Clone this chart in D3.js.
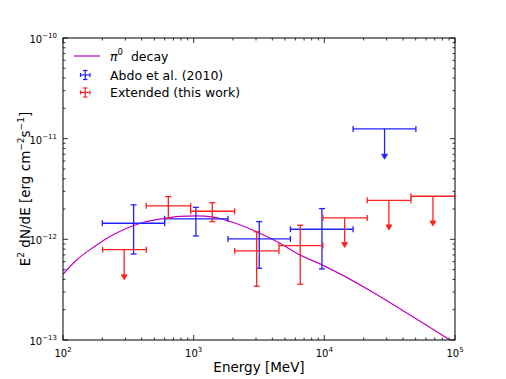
<!DOCTYPE html>
<html><head><meta charset="utf-8">
<script src="https://cdn.jsdelivr.net/npm/d3@7"></script>
<style>body{margin:0;background:#fff}svg{display:block}text{font-family:"DejaVu Sans",sans-serif;fill:#000}</style>
</head><body><svg id="c" width="506" height="379"></svg>
<script>
// pi0 decay model curve (energy MeV, E^2 dN/dE)
const curveE = [100, 127, 171, 229, 307, 411, 552, 785, 1054, 1413, 2010, 3035, 4575, 6505, 9250, 91400, 100000];
const curveF = [4.5e-13, 6.23e-13, 8.35e-13, 1.065e-12, 1.29e-12, 1.47e-12, 1.59e-12, 1.69e-12, 1.71e-12, 1.66e-12, 1.47e-12, 1.19e-12, 9.14e-13, 7.0e-13, 5.7e-13, 1.0e-13, 9.3e-14];

// Abdo et al. (2010)
const abdoE    = [347, 1040, 3175, 9590, 28900];
const abdoElo  = [200, 600, 1830, 5500, 16600];
const abdoEhi  = [600, 1830, 5500, 16600, 50200];
const abdoF    = [1.445e-12, 1.6e-12, 1.01e-12, 1.26e-12, 1.25e-11];
const abdoFlo  = [7.16e-13, 1.08e-12, 5.16e-13, 5.08e-13, 6.4e-12];
const abdoFhi  = [2.2e-12, 2.08e-12, 1.5e-12, 2.02e-12, null];
const abdoUL   = [false, false, false, false, true];

// Extended (this work)
const extE    = [294, 640, 1388, 3035, 6540, 14300, 31200, 67800];
const extElo  = [201, 434, 948, 2060, 4496, 9750, 21300, 46000];
const extEhi  = [434, 948, 2060, 4496, 9750, 21300, 46000, 100000];
const extF    = [7.9e-13, 2.15e-12, 1.9e-12, 7.67e-13, 8.67e-13, 1.63e-12, 2.44e-12, 2.68e-12];
const extFlo  = [4.05e-13, 1.62e-12, 1.5e-12, 3.42e-13, 3.58e-13, 8.5e-13, 1.27e-12, 1.39e-12];
const extFhi  = [null, 2.66e-12, 2.31e-12, 1.19e-12, 1.38e-12, null, null, null];
const extUL   = [true, false, false, false, false, true, true, true];

const xTicks = [100, 1000, 10000, 100000];
const xTickExp = ["2", "3", "4", "5"];
const yTicks = [1e-13, 1e-12, 1e-11, 1e-10];
const yTickExp = ["-13", "-12", "-11", "-10"];

const L = 63, R = 455, T = 38, B = 340;
const svg = d3.select("#c");
const x = d3.scaleLog().domain([100, 1e5]).range([L, R]);
const y = d3.scaleLog().domain([1e-13, 1e-10]).range([B, T]);

svg.append("defs").append("clipPath").attr("id", "clip")
  .append("rect").attr("x", L).attr("y", T).attr("width", R - L).attr("height", B - T);

// minor/major ticks on all sides (inward)
const g = svg.append("g");
function minors(e0, e1) {
  const out = [];
  for (let e = e0; e < e1; e++) for (let k = 2; k <= 9; k++) out.push(k * Math.pow(10, e));
  return out;
}
const xMin = minors(2, 5), yMin = minors(-13, -10);
const tk = (x1, y1, x2, y2) => g.append("line").attr("x1", x1).attr("y1", y1).attr("x2", x2).attr("y2", y2).attr("stroke", "#000").attr("stroke-width", 0.8);
xMin.forEach(v => { const px = x(v); tk(px, B, px, B - 2.5); tk(px, T, px, T + 2.5); });
yMin.forEach(v => { const py = y(v); tk(L, py, L + 2.5, py); tk(R, py, R - 2.5, py); });
xTicks.forEach(v => { const px = x(v); tk(px, B, px, B - 5); tk(px, T, px, T + 5); });
yTicks.forEach(v => { const py = y(v); tk(L, py, L + 5, py); tk(R, py, R - 5, py); });

// tick labels
xTicks.forEach((v, i) => {
  const t = svg.append("text").attr("x", x(v)).attr("y", B + 17).attr("text-anchor", "middle").attr("font-size", 10);
  t.append("tspan").text("10");
  t.append("tspan").attr("dy", -5).attr("font-size", 7).text(xTickExp[i]);
});
yTicks.forEach((v, i) => {
  const t = svg.append("text").attr("x", L - 6).attr("y", y(v) + 5).attr("text-anchor", "end").attr("font-size", 10);
  t.append("tspan").text("10");
  t.append("tspan").attr("dy", -5).attr("font-size", 7).text(yTickExp[i].replace("-", "−"));
});

// axis labels
svg.append("text").attr("x", (L + R) / 2).attr("y", 372).attr("text-anchor", "middle").attr("font-size", 13.5).text("Energy [MeV]");
const yl = svg.append("text").attr("transform", `translate(30,${(T + B) / 2}) rotate(-90)`).attr("text-anchor", "middle").attr("font-size", 13.5);
yl.append("tspan").text("E");
yl.append("tspan").attr("dy", -6).attr("font-size", 9).text("2");
yl.append("tspan").attr("dy", 6).text(" dN/dE [erg cm");
yl.append("tspan").attr("dy", -6).attr("font-size", 9).text("−2");
yl.append("tspan").attr("dy", 6).text("s");
yl.append("tspan").attr("dy", -6).attr("font-size", 9).text("−1");
yl.append("tspan").attr("dy", 6).text("]");

const plot = svg.append("g").attr("clip-path", "url(#clip)");

// curve
const line = d3.line().x(d => x(d[0])).y(d => y(d[1])).curve(d3.curveMonotoneX);
plot.append("path").datum(curveE.map((e, i) => [e, curveF[i]]))
  .attr("d", line).attr("fill", "none").attr("stroke", "#c000c0").attr("stroke-width", 1.2);

function drawSeries(color, E, Elo, Ehi, F, Flo, Fhi, UL) {
  const s = plot.append("g").attr("stroke", color).attr("stroke-width", 1.3).attr("fill", "none");
  E.forEach((e, i) => {
    const cx = x(e), cy = y(F[i]), x1 = x(Elo[i]), x2 = x(Ehi[i]);
    const ln = (a, b, c, d) => s.append("line").attr("x1", a).attr("y1", b).attr("x2", c).attr("y2", d);
    ln(x1, cy, x2, cy);
    ln(x1, cy - 3, x1, cy + 3);
    ln(x2, cy - 3, x2, cy + 3);
    if (UL[i]) {
      const ye = y(Flo[i]);
      ln(cx, cy, cx, ye - 3);
      s.append("path").attr("d", `M${cx - 3},${ye - 4}L${cx + 3},${ye - 4}L${cx},${ye + 1}Z`).attr("fill", color).attr("stroke-width", 0.8);
    } else {
      const y1 = y(Fhi[i]), y2 = y(Flo[i]);
      ln(cx, y1, cx, y2);
      ln(cx - 3, y1, cx + 3, y1);
      ln(cx - 3, y2, cx + 3, y2);
    }
  });
}
drawSeries("#2020ff", abdoE, abdoElo, abdoEhi, abdoF, abdoFlo, abdoFhi, abdoUL);
drawSeries("#ff2020", extE, extElo, extEhi, extF, extFlo, extFhi, extUL);

// frame
svg.append("rect").attr("x", L).attr("y", T).attr("width", R - L).attr("height", B - T)
  .attr("fill", "none").attr("stroke", "#000").attr("stroke-width", 1);

// legend
const lg = svg.append("g");
lg.append("line").attr("x1", 74).attr("x2", 100).attr("y1", 56).attr("y2", 56).attr("stroke", "#c000c0").attr("stroke-width", 1.2);
const t0 = lg.append("text").attr("x", 110).attr("y", 61).attr("font-size", 12.5);
t0.append("tspan").attr("font-style", "italic").text("π");
t0.append("tspan").attr("dy", -6).attr("font-size", 8.5).text("0");
t0.append("tspan").attr("dy", 6).text("\u00a0 decay");
[["#2020ff", 75, "Abdo et al. (2010)"], ["#ff2020", 92.5, "Extended (this work)"]].forEach(([c, yy, label]) => {
  const gg = lg.append("g").attr("stroke", c).attr("stroke-width", 1.2);
  gg.append("line").attr("x1", 80.5).attr("x2", 90).attr("y1", yy).attr("y2", yy);
  gg.append("line").attr("x1", 85.25).attr("x2", 85.25).attr("y1", yy - 4.5).attr("y2", yy + 4.5);
  gg.append("line").attr("x1", 80.5).attr("x2", 80.5).attr("y1", yy - 2).attr("y2", yy + 2);
  gg.append("line").attr("x1", 90).attr("x2", 90).attr("y1", yy - 2).attr("y2", yy + 2);
  gg.append("line").attr("x1", 83).attr("x2", 87.5).attr("y1", yy - 4.5).attr("y2", yy - 4.5);
  gg.append("line").attr("x1", 83).attr("x2", 87.5).attr("y1", yy + 4.5).attr("y2", yy + 4.5);
  lg.append("text").attr("x", 110).attr("y", yy + 4.5).attr("font-size", 12.5).text(label);
});
</script></body></html>
